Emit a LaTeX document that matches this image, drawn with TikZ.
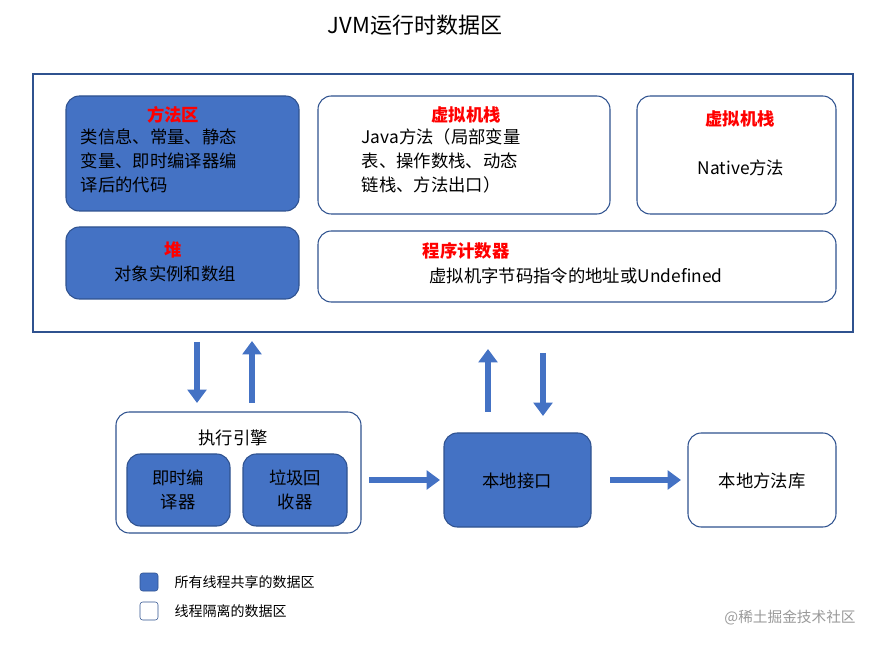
\documentclass[tikz,border=0pt]{standalone}
\usepackage{fontspec}
\setmainfont{Noto Sans CJK SC}
\usetikzlibrary{arrows.meta}
\definecolor{jblue}{HTML}{4472C4}
\definecolor{jedge}{HTML}{2F528F}
\definecolor{jred}{HTML}{FF0000}
\begin{document}
\begin{tikzpicture}[x=0.75pt,y=-0.75pt,
  shared/.style={draw=jedge,fill=jblue,rounded corners=10pt,line width=0.8pt},
  priv/.style={draw=jedge,fill=white,rounded corners=10pt,line width=0.8pt},
  ttl/.style={text=jred,font=\fontsize{13}{15}\selectfont\bfseries},
  txt/.style={font=\fontsize{13}{18}\selectfont,align=left},
  barr/.style={draw=jblue,line width=5pt,-{Triangle[length=10pt,width=14pt]}}]
\useasboundingbox (0,0) rectangle (889,648);
\node (title) at (415,25) {\fontsize{16.5}{18}\selectfont JVM运行时数据区};
\draw[draw=jedge,line width=0.8pt] (33,74) rectangle (853,332);
\draw[shared] (66,96) rectangle (299,211);
\node[ttl] (m1) at (173,115) {方法区};
\node[txt,anchor=north west] (m2) at (76,124) {类信息、常量、静态\\变量、即时编译器编\\译后的代码};
\draw[priv] (318,96) rectangle (610,214);
\node[ttl] (s1) at (466,115) {虚拟机栈};
\node[txt,anchor=north west] (s2) at (357,124) {Java方法（局部变量\\表、操作数栈、动态\\链栈、方法出口）};
\draw[priv] (637,96) rectangle (836,214);
\node[ttl] (n1) at (740,119) {虚拟机栈};
\node[txt] (n2) at (741,168) {Native方法};
\draw[shared] (66,227) rectangle (299,299);
\node[ttl] (h1) at (173,250) {堆};
\node[txt] (h2) at (175,274) {对象实例和数组};
\draw[priv] (318,231) rectangle (836,302);
\node[ttl] (p1) at (466,251) {程序计数器};
\node[txt] (p2) at (576,276) {虚拟机字节码指令的地址或Undefined};
\coordinate (a1) at (197,342); \coordinate (a2) at (197,403);
\coordinate (b1) at (252,403); \coordinate (b2) at (252,341);
\coordinate (c1) at (488,412); \coordinate (c2) at (488,349);
\coordinate (d1) at (543,353); \coordinate (d2) at (543,416);
\draw[barr] (a1) -- (a2);
\draw[barr] (b1) -- (b2);
\draw[barr] (c1) -- (c2);
\draw[barr] (d1) -- (d2);
\draw[priv] (116,412) rectangle (361,533);
\node[txt] (e) at (233,438) {执行引擎};
\draw[shared] (127,454) rectangle (230,526);
\node[txt,align=center] (jit) at (178,490) {即时编\\译器};
\draw[shared] (243,454) rectangle (347,526);
\node[txt,align=center] (gc) at (295,490) {垃圾回\\收器};
\draw[shared] (444,433) rectangle (591,527);
\node[txt] (ni) at (517,481) {本地接口};
\draw[priv] (688,433) rectangle (836,527);
\node[txt] (nl) at (762,481) {本地方法库};
\coordinate (r1) at (369,480); \coordinate (r2) at (440,480);
\coordinate (q1) at (610,480); \coordinate (q2) at (681,480);
\draw[barr] (r1) -- (r2);
\draw[barr] (q1) -- (q2);
\draw[draw=jedge,fill=jblue,rounded corners=2pt] (140,573) rectangle (158,591);
\node[anchor=west,font=\fontsize{10.5}{12}\selectfont] (l1) at (170,582) {所有线程共享的数据区};
\draw[draw=jedge,fill=white,rounded corners=2pt] (140,602) rectangle (158,620);
\node[anchor=west,font=\fontsize{10.5}{12}\selectfont] (l2) at (170,611) {线程隔离的数据区};
\node[text=gray!80,font=\fontsize{11}{12}\selectfont] (wm) at (790,618) {@稀土掘金技术社区};
\end{tikzpicture}
\end{document}
